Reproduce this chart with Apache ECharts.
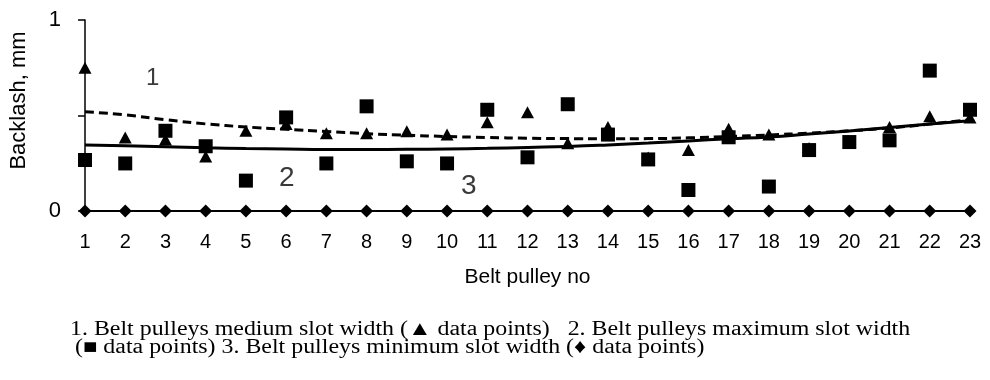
<!DOCTYPE html>
<html>
<head>
<meta charset="utf-8">
<style>html,body{margin:0;padding:0;background:#fff}#c{width:990px;height:380px}</style>
<script src="https://cdn.jsdelivr.net/npm/echarts@6/dist/echarts.min.js"></script>
</head>
<body>
<div id="c"></div>
<script>
var pulleys = ['1','2','3','4','5','6','7','8','9','10','11','12','13','14','15','16','17','18','19','20','21','22','23'];
var mediumSlot = [0.75,0.385,0.375,0.285,0.42,0.455,0.407,0.407,0.418,0.40,0.465,0.517,0.355,0.44,0.28,0.32,0.43,0.40,0.33,0.36,0.44,0.496,0.49];
var maximumSlot = [0.267,0.249,0.42,0.339,0.159,0.49,0.249,0.548,0.26,0.249,0.53,0.281,0.559,0.40,0.27,0.11,0.386,0.128,0.319,0.361,0.37,0.735,0.53];
var minimumSlot = [0,0,0,0,0,0,0,0,0,0,0,0,0,0,0,0,0,0,0,0,0,0,0];
var mediumTrend = [0.52,0.503,0.478,0.456,0.44,0.428,0.416,0.405,0.397,0.39,0.385,0.381,0.379,0.378,0.379,0.383,0.39,0.398,0.408,0.42,0.435,0.455,0.478];
var maximumTrend = [0.346,0.341,0.336,0.331,0.327,0.324,0.322,0.322,0.323,0.325,0.328,0.333,0.338,0.346,0.356,0.367,0.378,0.388,0.403,0.419,0.437,0.455,0.472];
var yTicks = {0:'0', 1:'1'};

var sans = 'Liberation Sans, Arial, sans-serif';
var serif = '20px Liberation Serif, Times New Roman, serif';
var chart = echarts.init(document.getElementById('c'), null, {renderer:'canvas'});
chart.setOption({
  animation: false,
  backgroundColor: '#fff',
  grid: {left: 82, right: 20, top: 20, bottom: 169, containLabel: false},
  xAxis: {
    type: 'category', data: pulleys, boundaryGap: false,
    name: 'Belt pulley no', nameLocation: 'middle', nameGap: 56,
    nameTextStyle: {fontFamily: sans, fontSize: 21, color: '#000'},
    axisLine: {lineStyle: {color: '#000', width: 1.5}},
    axisTick: {show: false},
    axisLabel: {interval: 0, margin: 21, fontFamily: sans, fontSize: 20, color: '#000'},
    splitLine: {show: false}
  },
  yAxis: {
    type: 'value', min: 0, max: 1, interval: 0.5,
    name: 'Backlash, mm', nameLocation: 'middle', nameGap: 55, nameRotate: 90,
    nameTextStyle: {fontFamily: sans, fontSize: 22, color: '#000', padding: [0, 0, 0, 30]},
    axisLine: {show: true, lineStyle: {color: '#000', width: 1.5}},
    axisTick: {show: true, inside: false, length: 7, lineStyle: {color: '#000', width: 1.5}},
    axisLabel: {margin: 24, fontFamily: sans, fontSize: 22, color: '#000',
      formatter: function (v) { return yTicks[v] !== undefined ? yTicks[v] : ''; }},
    splitLine: {show: false}
  },
  series: [
    {name: 'min', type: 'line', data: minimumSlot, symbol: 'diamond', symbolSize: [13, 13],
     itemStyle: {color: '#000', opacity: 1}, lineStyle: {color: '#000', width: 2}, z: 5},
    {name: 'mediumTrend', type: 'line', data: mediumTrend, smooth: true, showSymbol: false, symbol: 'none',
     lineStyle: {color: '#000', width: 3, type: [9, 5]}, z: 3},
    {name: 'maximumTrend', type: 'line', data: maximumTrend, smooth: true, showSymbol: false, symbol: 'none',
     lineStyle: {color: '#000', width: 3}, z: 3},
    {name: 'medium', type: 'scatter', data: mediumSlot, symbol: 'triangle', symbolSize: [13, 12],
     itemStyle: {color: '#000', opacity: 1}, z: 4},
    {name: 'maximum', type: 'scatter', data: maximumSlot, symbol: 'rect', symbolSize: [14, 14],
     itemStyle: {color: '#000', opacity: 1}, z: 6}
  ],
  graphic: [
    {type: 'text', left: 146, top: 66, style: {text: '1', font: '24px ' + sans, fill: '#3a3a3a'}},
    {type: 'text', left: 279, top: 164, style: {text: '2', font: '28px ' + sans, fill: '#3a3a3a'}},
    {type: 'text', left: 461, top: 172, style: {text: '3', font: '28px ' + sans, fill: '#3a3a3a'}},
    {type: 'text', x: 70, y: 320, scaleX: 1.195, style: {text: '1. Belt pulleys medium slot width (\u25B2 data points)   2. Belt pulleys maximum slot width', font: serif, fill: '#000'}},
    {type: 'text', x: 75, y: 338, scaleX: 1.195, style: {text: '(\u25A0 data points) 3. Belt pulleys minimum slot width (\u2666 data points)', font: serif, fill: '#000'}}
  ]
});
</script>
</body>
</html>
